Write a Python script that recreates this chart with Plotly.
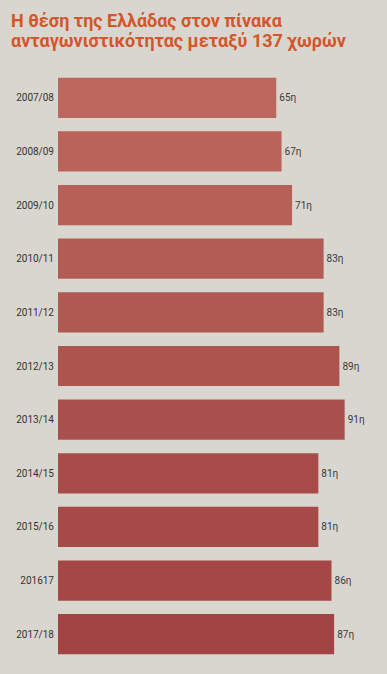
import plotly.graph_objects as go

title_lines = ["Η θέση της Ελλάδας στον πίνακα",
               "ανταγωνιστικότητας μεταξύ 137 χωρών"]
seasons = ["2007/08", "2008/09", "2009/10", "2010/11", "2011/12", "2012/13",
           "2013/14", "2014/15", "2015/16", "201617", "2017/18"]
ranks = [65, 67, 71, 83, 83, 89, 91, 81, 81, 86, 87]
rank_labels = [f"{r}η" for r in ranks]

BASE = -18  # visual baseline offset of the newspaper graphic

bar_colors = ["#bc685e", "#b9645b", "#b66058", "#b35c55", "#b05852", "#ad544f",
              "#aa504c", "#a84c49", "#a64a47", "#a44745", "#a24443"]

FONT = "Roboto, Liberation Sans, Arial"

fig = go.Figure(go.Bar(
    y=seasons,
    x=[r - BASE for r in ranks],
    base=BASE,
    orientation="h",
    marker=dict(color=bar_colors, line=dict(width=0)),
    text=rank_labels,
    textposition="outside",
    cliponaxis=False,
    textfont=dict(family=FONT, size=10, color="#3a3a3a"),
    width=0.75,
))

title_y = [1.0864, 1.0508]
for line, yy in zip(title_lines, title_y):
    fig.add_annotation(
        text=line, xref="paper", yref="paper", x=-0.155, y=yy,
        xanchor="left", yanchor="middle", showarrow=False,
        font=dict(family=FONT, size=18, color="#d5552a", weight="bold"),
    )

fig.update_layout(
    width=387, height=674,
    margin=dict(l=58, r=10, t=71, b=13),
    paper_bgcolor="#d9d6cf",
    plot_bgcolor="#d9d6cf",
    showlegend=False,
    xaxis=dict(range=[BASE, 103.3], visible=False, fixedrange=True),
    yaxis=dict(autorange="reversed", showgrid=False, zeroline=False, showline=False,
               ticks="", ticklabelstandoff=3, fixedrange=True,
               tickfont=dict(family=FONT, size=10, color="#333333")),
)

fig.write_html("out.html", config={"displayModeBar": False},
               post_script="document.body.style.margin='0';")
